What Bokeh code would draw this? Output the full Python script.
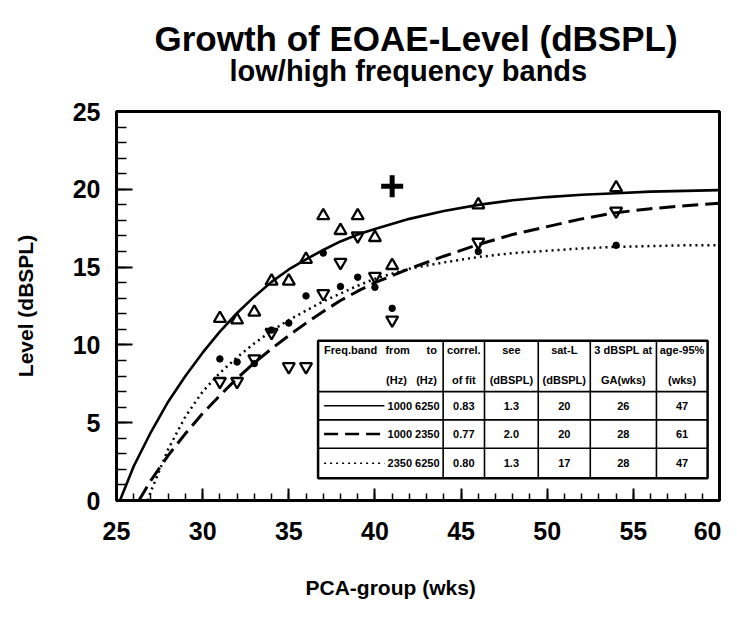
from bokeh.plotting import figure
from bokeh.models import Title, SingleIntervalTicker, ColumnDataSource, LinearAxis, FixedTicker
from bokeh.core.properties import value
from bokeh.embed import file_html
from bokeh.resources import INLINE

FONT = "Liberation Sans"

# ---------------- data ----------------
weeks = [31, 32, 33, 34, 35, 36, 37, 38, 39, 40, 41, 46, 54]
level_1000_6250 = [11.7, 11.6, 12.1, 14.1, 14.1, 15.5, 18.3, 17.35, 18.3, 16.9, 15.1, 19.0, 20.1]
level_1000_2350 = [7.65, 7.65, 9.1, 10.8, 8.6, 8.6, 13.3, 15.3, 17.0, 14.4, 11.6, 16.6, 18.6]
level_2350_6250 = [9.1, 8.9, 8.8, 10.95, 11.4, 13.15, 15.9, 13.75, 14.35, 13.7, 12.35, 16.0, 16.4]
outlier_week = [41]
outlier_level = [20.2]

fit_solid_x = [25.2, 26, 27, 28, 29, 30, 31, 32, 33, 34, 35, 36, 37, 38, 39, 40,
               42, 44, 46, 48, 50, 52, 54, 56, 58, 60]
fit_solid_y = [0, 2.2, 4.4, 6.35, 8.0, 9.5, 10.85, 12.05, 13.1, 14.05, 14.85, 15.5, 16.1, 16.65, 17.1, 17.45,
               18.1, 18.6, 19.0, 19.3, 19.5, 19.65, 19.75, 19.85, 19.9, 19.95]
fit_dashed_x = [26.3, 27, 28, 29, 30, 31, 32, 33, 34, 35, 36, 37, 38, 39, 40,
                42, 44, 46, 48, 50, 52, 54, 56, 58, 60]
fit_dashed_y = [0, 1.3, 2.9, 4.3, 5.6, 6.75, 7.85, 8.85, 9.75, 10.6, 11.4, 12.15, 12.85, 13.45, 14.0,
                14.9, 15.7, 16.45, 17.1, 17.6, 18.1, 18.5, 18.75, 18.95, 19.1]
fit_dotted_x = [26.8, 27, 28, 29, 30, 31, 32, 33, 34, 35, 36, 37, 38, 39, 40,
                42, 44, 46, 48, 50, 52, 54, 56, 58, 60]
fit_dotted_y = [0, 0.6, 3.3, 5.4, 7.0, 8.2, 9.2, 10.1, 10.9, 11.6, 12.2, 12.8, 13.3, 13.8, 14.25,
                14.9, 15.3, 15.65, 15.9, 16.05, 16.2, 16.3, 16.35, 16.4, 16.4]

# table contents
hdr_line1 = ["correl.", "see", "sat-L", "3 dBSPL at", "age-95%"]
hdr_line2 = ["of fit", "(dBSPL)", "(dBSPL)", "GA(wks)", "(wks)"]
band_from = ["1000", "1000", "2350"]
band_to = ["6250", "2350", "6250"]
correl = ["0.83", "0.77", "0.80"]
see = ["1.3", "2.0", "1.3"]
sat_L = ["20", "20", "17"]
ga_3db = ["26", "28", "28"]
age_95 = ["47", "61", "47"]

title_text = "Growth of EOAE-Level (dBSPL)"
subtitle_text = "low/high frequency bands"
xlabel_text = "PCA-group (wks)"
ylabel_text = "Level (dBSPL)"

# ---------------- figure ----------------
p = figure(width=721, height=601, x_range=(25, 60), y_range=(0, 25),
           output_backend="svg", toolbar_location=None,
           min_border_left=116, min_border_right=2, min_border_top=111, min_border_bottom=101,
           background_fill_color="white", border_fill_color="white")
p.grid.visible = False
p.outline_line_color = "black"
p.outline_line_width = 3

xa = p.below[0]
ya = p.left[0]

for ax in (xa, ya):
    ax.ticker = SingleIntervalTicker(interval=5, num_minor_ticks=5)
    ax.axis_line_width = 3
    ax.axis_line_color = "black"
    ax.major_tick_out = 0
    ax.minor_tick_out = 0
    ax.major_tick_line_width = 2
    ax.minor_tick_line_width = 1.5
    ax.major_label_text_font = FONT
    ax.major_label_text_font_style = "bold"
    ax.major_label_text_font_size = "25px"
    ax.major_label_text_color = "black"
    ax.axis_label_text_font = FONT
    ax.axis_label_text_font_style = "bold"
    ax.axis_label_text_font_size = "21px"
    ax.axis_label_text_color = "black"

xa.major_tick_in = 12
xa.minor_tick_in = 7
xa.major_label_standoff = 21

ya.major_tick_in = 16
ya.minor_tick_in = 10
ya.major_label_standoff = 16
ya.axis_label = ylabel_text
ya.axis_label_standoff = 33


def spacer(side, gap):
    # an invisible one-tick axis that only reserves `gap` pixels in a side panel
    ax = LinearAxis(ticker=FixedTicker(ticks=[40], minor_ticks=[]), major_label_overrides={40: ""},
                    major_label_text_font_size="1px", major_tick_out=gap, major_tick_in=0,
                    minor_tick_out=0, minor_tick_in=0, major_label_standoff=0,
                    axis_line_alpha=0, major_tick_line_alpha=0, minor_tick_line_alpha=0)
    p.add_layout(ax, side)


# panels above: first added sits next to the frame
spacer("above", 27)
p.add_layout(Title(text=subtitle_text, align="left", offset=113, vertical_align="middle",
                   text_font=FONT, text_font_size="29px", text_font_style="bold",
                   text_color="black", standoff=-6), "above")
p.add_layout(Title(text=title_text, align="left", offset=38, vertical_align="middle",
                   text_font=FONT, text_font_size="35px", text_font_style="bold",
                   text_color="black", standoff=-4), "above")

# panels below the x axis
spacer("below", 31)
p.add_layout(Title(text=xlabel_text, align="left", offset=189, vertical_align="bottom",
                   text_font=FONT, text_font_size="21px", text_font_style="bold",
                   text_color="black", standoff=0), "below")

# ---------------- fit curves ----------------
p.line(fit_solid_x, fit_solid_y, line_color="black", line_width=2.6)
p.line(fit_dashed_x, fit_dashed_y, line_color="black", line_width=3, line_dash="16 7")
p.line(fit_dotted_x, fit_dotted_y, line_color="black", line_width=2.5, line_dash="2 4")

# ---------------- points ----------------
src = ColumnDataSource(dict(w=weeks, a=level_1000_6250, b=level_1000_2350, c=level_2350_6250))
p.scatter("w", "a", source=src, marker="triangle", size=12, fill_alpha=0,
          line_color="black", line_width=2.3)
p.scatter("w", "b", source=src, marker="inverted_triangle", size=12, fill_alpha=0,
          line_color="black", line_width=2.3)
p.scatter("w", "c", source=src, marker="circle", size=6.5, fill_color="black", line_color="black")
p.scatter(outlier_week, outlier_level, marker="cross", size=22, line_color="black", line_width=5)

# ---------------- table (layout in axis units) ----------------
col_x = [36.70, 43.96, 46.36, 49.48, 52.50, 56.34, 59.31]
row_y = [10.26, 7.0, 5.18, 3.36, 1.43]
p.quad(left=[col_x[0]], right=[col_x[-1]], bottom=[row_y[-1]], top=[row_y[0]],
       fill_color="white", line_color="black", line_width=2.5)
p.segment(x0=col_x[1:-1], x1=col_x[1:-1], y0=[row_y[0]] * 5, y1=[row_y[-1]] * 5,
          line_color="black", line_width=1.6)
p.segment(x0=[col_x[0]] * 3, x1=[col_x[-1]] * 3, y0=row_y[1:-1], y1=row_y[1:-1],
          line_color="black", line_width=1.6)

cell_centers = [(col_x[i] + col_x[i + 1]) / 2 for i in range(1, 6)]
y_h1, y_h2 = 9.66, 7.75
row_mid = [(row_y[i] + row_y[i + 1]) / 2 for i in range(1, 4)]
tfs = "11px"


def txt(xs, ys, texts, align="center"):
    p.text(x=xs, y=ys, text=texts, text_font=value(FONT), text_font_style="bold",
           text_font_size=tfs, text_align=align, text_baseline="middle", text_color="black")


txt([37.05], [y_h1], ["Freq.band"], "left")
txt([41.32], [y_h1], ["from"])
txt([43.6], [y_h1], ["to"], "right")
txt([41.25], [y_h2], ["(Hz)"])
txt([43.6], [y_h2], ["(Hz)"], "right")
txt(cell_centers, [y_h1] * 5, hdr_line1)
txt(cell_centers, [y_h2] * 5, hdr_line2)

txt([43.75] * 3, row_mid, [f"{a} {b}" for a, b in zip(band_from, band_to)], "right")
for col, vals in zip(cell_centers, (correl, see, sat_L, ga_3db, age_95)):
    txt([col] * 3, row_mid, vals)

p.line([37.05, 40.55], [row_mid[0]] * 2, line_color="black", line_width=1.6)
p.line([37.05, 40.55], [row_mid[1]] * 2, line_color="black", line_width=2.5, line_dash="14 7")
p.line([37.05, 40.55], [row_mid[2]] * 2, line_color="black", line_width=1.6, line_dash="2 4")

open("out.html", "w").write(file_html(p, INLINE))
